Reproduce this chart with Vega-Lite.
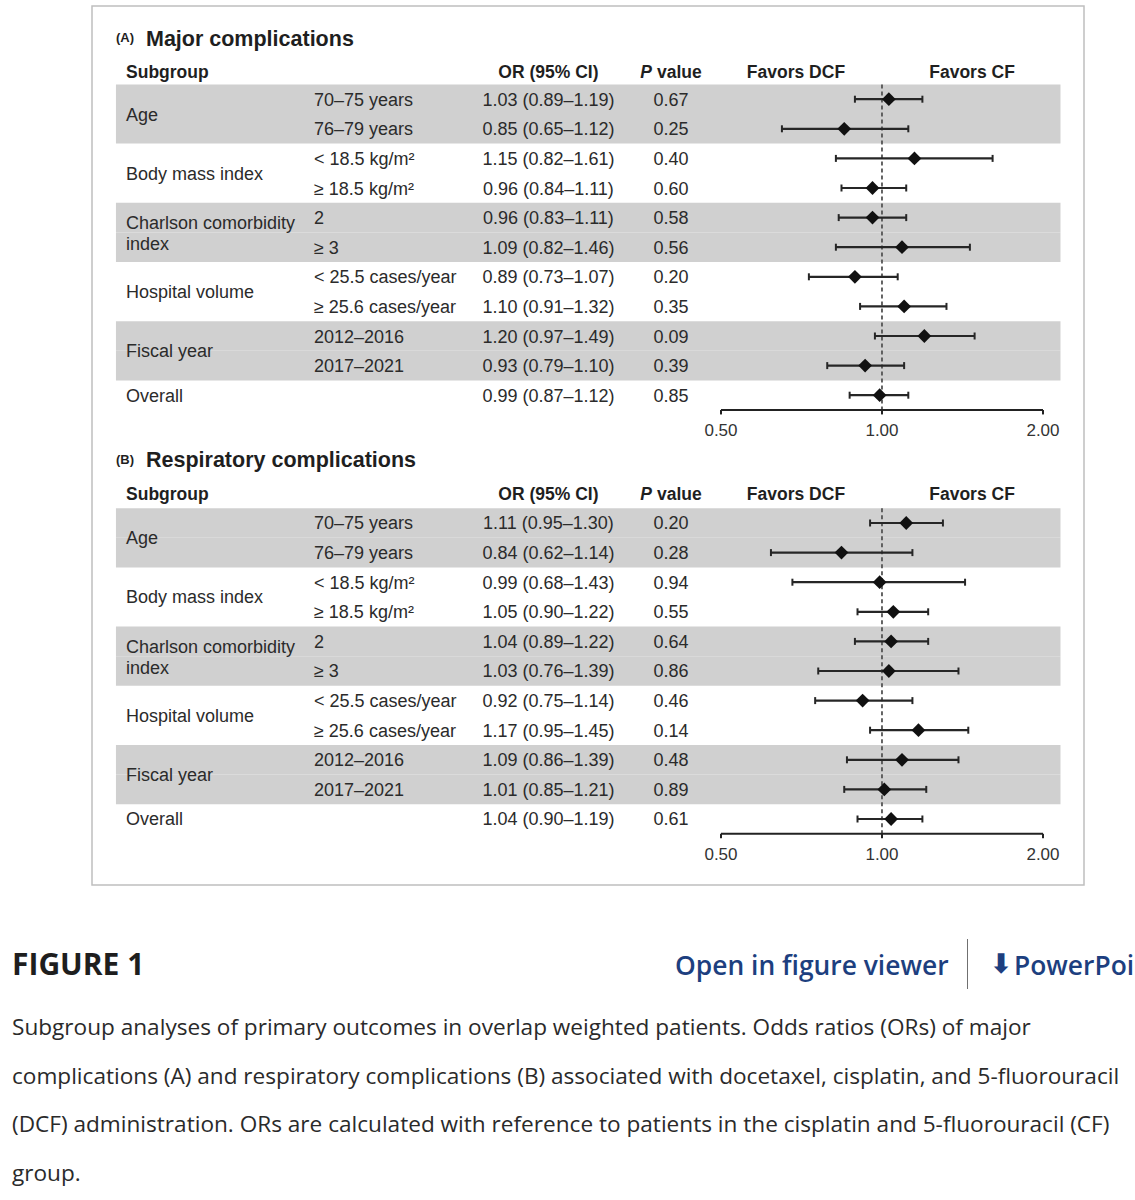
{
  "$schema": "https://vega.github.io/schema/vega-lite/v6.json",
  "background": "white",
  "padding": {"left": 12, "top": 5, "right": 0, "bottom": 10},
  "config": {
    "view": {"stroke": "#bfbfbf", "strokeWidth": 1.5},
    "text": {"font": "Liberation Sans", "fontSize": 18, "color": "#2b2b2b", "baseline": "middle"}
  },
  "datasets": {
    "rows": [
      {"panel": "A", "group": "Age", "level": "70–75 years", "or": 1.03, "lo": 0.89, "hi": 1.19, "ci": "1.03 (0.89–1.19)", "p": 0.67},
      {"panel": "A", "group": "Age", "level": "76–79 years", "or": 0.85, "lo": 0.65, "hi": 1.12, "ci": "0.85 (0.65–1.12)", "p": 0.25},
      {"panel": "A", "group": "Body mass index", "level": "< 18.5 kg/m²", "or": 1.15, "lo": 0.82, "hi": 1.61, "ci": "1.15 (0.82–1.61)", "p": 0.40},
      {"panel": "A", "group": "Body mass index", "level": "≥ 18.5 kg/m²", "or": 0.96, "lo": 0.84, "hi": 1.11, "ci": "0.96 (0.84–1.11)", "p": 0.60},
      {"panel": "A", "group": "Charlson comorbidity\nindex", "level": "2", "or": 0.96, "lo": 0.83, "hi": 1.11, "ci": "0.96 (0.83–1.11)", "p": 0.58},
      {"panel": "A", "group": "Charlson comorbidity\nindex", "level": "≥ 3", "or": 1.09, "lo": 0.82, "hi": 1.46, "ci": "1.09 (0.82–1.46)", "p": 0.56},
      {"panel": "A", "group": "Hospital volume", "level": "< 25.5 cases/year", "or": 0.89, "lo": 0.73, "hi": 1.07, "ci": "0.89 (0.73–1.07)", "p": 0.20},
      {"panel": "A", "group": "Hospital volume", "level": "≥ 25.6 cases/year", "or": 1.10, "lo": 0.91, "hi": 1.32, "ci": "1.10 (0.91–1.32)", "p": 0.35},
      {"panel": "A", "group": "Fiscal year", "level": "2012–2016", "or": 1.20, "lo": 0.97, "hi": 1.49, "ci": "1.20 (0.97–1.49)", "p": 0.09},
      {"panel": "A", "group": "Fiscal year", "level": "2017–2021", "or": 0.93, "lo": 0.79, "hi": 1.10, "ci": "0.93 (0.79–1.10)", "p": 0.39},
      {"panel": "A", "group": "Overall", "level": "Overall", "or": 0.99, "lo": 0.87, "hi": 1.12, "ci": "0.99 (0.87–1.12)", "p": 0.85},
      {"panel": "B", "group": "Age", "level": "70–75 years", "or": 1.11, "lo": 0.95, "hi": 1.30, "ci": "1.11 (0.95–1.30)", "p": 0.20},
      {"panel": "B", "group": "Age", "level": "76–79 years", "or": 0.84, "lo": 0.62, "hi": 1.14, "ci": "0.84 (0.62–1.14)", "p": 0.28},
      {"panel": "B", "group": "Body mass index", "level": "< 18.5 kg/m²", "or": 0.99, "lo": 0.68, "hi": 1.43, "ci": "0.99 (0.68–1.43)", "p": 0.94},
      {"panel": "B", "group": "Body mass index", "level": "≥ 18.5 kg/m²", "or": 1.05, "lo": 0.90, "hi": 1.22, "ci": "1.05 (0.90–1.22)", "p": 0.55},
      {"panel": "B", "group": "Charlson comorbidity\nindex", "level": "2", "or": 1.04, "lo": 0.89, "hi": 1.22, "ci": "1.04 (0.89–1.22)", "p": 0.64},
      {"panel": "B", "group": "Charlson comorbidity\nindex", "level": "≥ 3", "or": 1.03, "lo": 0.76, "hi": 1.39, "ci": "1.03 (0.76–1.39)", "p": 0.86},
      {"panel": "B", "group": "Hospital volume", "level": "< 25.5 cases/year", "or": 0.92, "lo": 0.75, "hi": 1.14, "ci": "0.92 (0.75–1.14)", "p": 0.46},
      {"panel": "B", "group": "Hospital volume", "level": "≥ 25.6 cases/year", "or": 1.17, "lo": 0.95, "hi": 1.45, "ci": "1.17 (0.95–1.45)", "p": 0.14},
      {"panel": "B", "group": "Fiscal year", "level": "2012–2016", "or": 1.09, "lo": 0.86, "hi": 1.39, "ci": "1.09 (0.86–1.39)", "p": 0.48},
      {"panel": "B", "group": "Fiscal year", "level": "2017–2021", "or": 1.01, "lo": 0.85, "hi": 1.21, "ci": "1.01 (0.85–1.21)", "p": 0.89},
      {"panel": "B", "group": "Overall", "level": "Overall", "or": 1.04, "lo": 0.90, "hi": 1.19, "ci": "1.04 (0.90–1.19)", "p": 0.61}
    ],
    "ticks": [
      {"v": 0.5, "label": "0.50"},
      {"v": 1, "label": "1.00"},
      {"v": 2, "label": "2.00"}
    ]
  },
  "spacing": 53,
  "vconcat": [
    {
      "spacing": 0,
      "hconcat": [
        {"width": 79, "height": 1, "data": {"values": []}, "mark": "text", "view": {"stroke": null, "fill": "white"}},
        {
          "width": 992,
          "height": 879,
          "resolve": {"scale": {"y": "independent"}},
          "layer": [
            {
              "layer": [
                {"data": {"name": "rows"}, "transform": [{"filter": "datum.panel == 'A' && (datum.group == 'Age' || datum.group == 'Fiscal year' || indexof(datum.group, 'Charlson') == 0)"}],
                 "mark": {"type": "rect", "color": "#d0d0d0"},
                 "encoding": {"x": {"datum": 0.03696, "type": "quantitative", "scale": {"type": "log", "domain": [0.03334, 2.3862], "nice": false}, "axis": null}, "x2": {"datum": 2.15659},
                   "y": {"field": "level", "type": "nominal", "axis": null, "scale": {"type": "band", "domain": ["title", "header", "70–75 years", "76–79 years", "< 18.5 kg/m²", "≥ 18.5 kg/m²", "2", "≥ 3", "< 25.5 cases/year", "≥ 25.6 cases/year", "2012–2016", "2017–2021", "Overall", "axis", "pad1", "pad2", "pad3", "pad4", "pad5", "pad6", "pad7", "pad8", "pad9", "pad10", "pad11", "pad12", "pad13", "pad14", "pad15"], "paddingInner": 0, "paddingOuter": 0.348, "align": 0.932, "round": false}}}},
                {"data": {"values": [{}]},
                 "mark": {"type": "rule", "color": "#555555", "strokeWidth": 1.8, "strokeDash": [4, 3]},
                 "encoding": {"x": {"datum": 1, "type": "quantitative", "scale": {"type": "log", "domain": [0.03334, 2.3862], "nice": false}, "axis": null},
                   "y": {"datum": "70–75 years", "type": "nominal", "bandPosition": 0, "axis": null, "scale": {"type": "band", "domain": ["title", "header", "70–75 years", "76–79 years", "< 18.5 kg/m²", "≥ 18.5 kg/m²", "2", "≥ 3", "< 25.5 cases/year", "≥ 25.6 cases/year", "2012–2016", "2017–2021", "Overall", "axis", "pad1", "pad2", "pad3", "pad4", "pad5", "pad6", "pad7", "pad8", "pad9", "pad10", "pad11", "pad12", "pad13", "pad14", "pad15"], "paddingInner": 0, "paddingOuter": 0.348, "align": 0.932, "round": false}},
                   "y2": {"datum": "axis", "bandPosition": 0}}},
                {"data": {"name": "rows"}, "transform": [{"filter": "datum.panel == 'A'"}],
                 "mark": {"type": "rule", "color": "#262626", "strokeWidth": 2.2},
                 "encoding": {"x": {"field": "lo", "type": "quantitative", "scale": {"type": "log", "domain": [0.03334, 2.3862], "nice": false}, "axis": null}, "x2": {"field": "hi"},
                   "y": {"field": "level", "type": "nominal", "bandPosition": 0.5, "axis": null, "scale": {"type": "band", "domain": ["title", "header", "70–75 years", "76–79 years", "< 18.5 kg/m²", "≥ 18.5 kg/m²", "2", "≥ 3", "< 25.5 cases/year", "≥ 25.6 cases/year", "2012–2016", "2017–2021", "Overall", "axis", "pad1", "pad2", "pad3", "pad4", "pad5", "pad6", "pad7", "pad8", "pad9", "pad10", "pad11", "pad12", "pad13", "pad14", "pad15"], "paddingInner": 0, "paddingOuter": 0.348, "align": 0.932, "round": false}}}},
                {"data": {"name": "rows"}, "transform": [{"filter": "datum.panel == 'A'"}],
                 "mark": {"type": "tick", "color": "#262626", "thickness": 2, "size": 7, "opacity": 1},
                 "encoding": {"x": {"field": "lo", "type": "quantitative", "scale": {"type": "log", "domain": [0.03334, 2.3862], "nice": false}, "axis": null},
                   "y": {"field": "level", "type": "nominal", "axis": null, "scale": {"type": "band", "domain": ["title", "header", "70–75 years", "76–79 years", "< 18.5 kg/m²", "≥ 18.5 kg/m²", "2", "≥ 3", "< 25.5 cases/year", "≥ 25.6 cases/year", "2012–2016", "2017–2021", "Overall", "axis", "pad1", "pad2", "pad3", "pad4", "pad5", "pad6", "pad7", "pad8", "pad9", "pad10", "pad11", "pad12", "pad13", "pad14", "pad15"], "paddingInner": 0, "paddingOuter": 0.348, "align": 0.932, "round": false}}}},
                {"data": {"name": "rows"}, "transform": [{"filter": "datum.panel == 'A'"}],
                 "mark": {"type": "tick", "color": "#262626", "thickness": 2, "size": 7, "opacity": 1},
                 "encoding": {"x": {"field": "hi", "type": "quantitative", "scale": {"type": "log", "domain": [0.03334, 2.3862], "nice": false}, "axis": null},
                   "y": {"field": "level", "type": "nominal", "axis": null, "scale": {"type": "band", "domain": ["title", "header", "70–75 years", "76–79 years", "< 18.5 kg/m²", "≥ 18.5 kg/m²", "2", "≥ 3", "< 25.5 cases/year", "≥ 25.6 cases/year", "2012–2016", "2017–2021", "Overall", "axis", "pad1", "pad2", "pad3", "pad4", "pad5", "pad6", "pad7", "pad8", "pad9", "pad10", "pad11", "pad12", "pad13", "pad14", "pad15"], "paddingInner": 0, "paddingOuter": 0.348, "align": 0.932, "round": false}}}},
                {"data": {"name": "rows"}, "transform": [{"filter": "datum.panel == 'A'"}],
                 "mark": {"type": "point", "shape": "diamond", "filled": true, "size": 190, "color": "#111111", "opacity": 1},
                 "encoding": {"x": {"field": "or", "type": "quantitative", "scale": {"type": "log", "domain": [0.03334, 2.3862], "nice": false}, "axis": null},
                   "y": {"field": "level", "type": "nominal", "bandPosition": 0.5, "axis": null, "scale": {"type": "band", "domain": ["title", "header", "70–75 years", "76–79 years", "< 18.5 kg/m²", "≥ 18.5 kg/m²", "2", "≥ 3", "< 25.5 cases/year", "≥ 25.6 cases/year", "2012–2016", "2017–2021", "Overall", "axis", "pad1", "pad2", "pad3", "pad4", "pad5", "pad6", "pad7", "pad8", "pad9", "pad10", "pad11", "pad12", "pad13", "pad14", "pad15"], "paddingInner": 0, "paddingOuter": 0.348, "align": 0.932, "round": false}}}},
                {"data": {"name": "rows"}, "transform": [{"filter": "datum.panel == 'A' && indexof(datum.group, 'Charlson') != 0"}, {"window": [{"op": "row_number", "as": "rn"}], "groupby": ["group"]}, {"filter": "datum.rn == 2"}],
                 "mark": {"type": "text", "align": "left", "dy": 1.5},
                 "encoding": {"text": {"field": "group"}, "x": {"datum": 0.0386, "type": "quantitative", "scale": {"type": "log", "domain": [0.03334, 2.3862], "nice": false}, "axis": null},
                   "y": {"field": "level", "type": "nominal", "bandPosition": 0, "axis": null, "scale": {"type": "band", "domain": ["title", "header", "70–75 years", "76–79 years", "< 18.5 kg/m²", "≥ 18.5 kg/m²", "2", "≥ 3", "< 25.5 cases/year", "≥ 25.6 cases/year", "2012–2016", "2017–2021", "Overall", "axis", "pad1", "pad2", "pad3", "pad4", "pad5", "pad6", "pad7", "pad8", "pad9", "pad10", "pad11", "pad12", "pad13", "pad14", "pad15"], "paddingInner": 0, "paddingOuter": 0.348, "align": 0.932, "round": false}}}},
                {"data": {"name": "rows"}, "transform": [{"filter": "datum.panel == 'A' && indexof(datum.group, 'Charlson') == 0"}, {"window": [{"op": "row_number", "as": "rn"}], "groupby": ["group"]}, {"filter": "datum.rn == 2"}],
                 "mark": {"type": "text", "align": "left", "dy": -8.5, "lineBreak": "\n", "lineHeight": 21},
                 "encoding": {"text": {"field": "group"}, "x": {"datum": 0.0386, "type": "quantitative", "scale": {"type": "log", "domain": [0.03334, 2.3862], "nice": false}, "axis": null},
                   "y": {"field": "level", "type": "nominal", "bandPosition": 0, "axis": null, "scale": {"type": "band", "domain": ["title", "header", "70–75 years", "76–79 years", "< 18.5 kg/m²", "≥ 18.5 kg/m²", "2", "≥ 3", "< 25.5 cases/year", "≥ 25.6 cases/year", "2012–2016", "2017–2021", "Overall", "axis", "pad1", "pad2", "pad3", "pad4", "pad5", "pad6", "pad7", "pad8", "pad9", "pad10", "pad11", "pad12", "pad13", "pad14", "pad15"], "paddingInner": 0, "paddingOuter": 0.348, "align": 0.932, "round": false}}}},
                {"data": {"name": "rows"}, "transform": [{"filter": "datum.panel == 'A' && datum.group == 'Overall'"}],
                 "mark": {"type": "text", "align": "left", "dy": 1.5},
                 "encoding": {"text": {"field": "group"}, "x": {"datum": 0.0386, "type": "quantitative", "scale": {"type": "log", "domain": [0.03334, 2.3862], "nice": false}, "axis": null},
                   "y": {"field": "level", "type": "nominal", "bandPosition": 0.5, "axis": null, "scale": {"type": "band", "domain": ["title", "header", "70–75 years", "76–79 years", "< 18.5 kg/m²", "≥ 18.5 kg/m²", "2", "≥ 3", "< 25.5 cases/year", "≥ 25.6 cases/year", "2012–2016", "2017–2021", "Overall", "axis", "pad1", "pad2", "pad3", "pad4", "pad5", "pad6", "pad7", "pad8", "pad9", "pad10", "pad11", "pad12", "pad13", "pad14", "pad15"], "paddingInner": 0, "paddingOuter": 0.348, "align": 0.932, "round": false}}}},
                {"data": {"name": "rows"}, "transform": [{"filter": "datum.panel == 'A' && datum.group != 'Overall'"}],
                 "mark": {"type": "text", "align": "left", "dy": 1.5},
                 "encoding": {"text": {"field": "level"}, "x": {"datum": 0.08669, "type": "quantitative", "scale": {"type": "log", "domain": [0.03334, 2.3862], "nice": false}, "axis": null},
                   "y": {"field": "level", "type": "nominal", "bandPosition": 0.5, "axis": null, "scale": {"type": "band", "domain": ["title", "header", "70–75 years", "76–79 years", "< 18.5 kg/m²", "≥ 18.5 kg/m²", "2", "≥ 3", "< 25.5 cases/year", "≥ 25.6 cases/year", "2012–2016", "2017–2021", "Overall", "axis", "pad1", "pad2", "pad3", "pad4", "pad5", "pad6", "pad7", "pad8", "pad9", "pad10", "pad11", "pad12", "pad13", "pad14", "pad15"], "paddingInner": 0, "paddingOuter": 0.348, "align": 0.932, "round": false}}}},
                {"data": {"name": "rows"}, "transform": [{"filter": "datum.panel == 'A'"}],
                 "mark": {"type": "text", "align": "center", "dy": 1.5},
                 "encoding": {"text": {"field": "ci"}, "x": {"datum": 0.2379, "type": "quantitative", "scale": {"type": "log", "domain": [0.03334, 2.3862], "nice": false}, "axis": null},
                   "y": {"field": "level", "type": "nominal", "bandPosition": 0.5, "axis": null, "scale": {"type": "band", "domain": ["title", "header", "70–75 years", "76–79 years", "< 18.5 kg/m²", "≥ 18.5 kg/m²", "2", "≥ 3", "< 25.5 cases/year", "≥ 25.6 cases/year", "2012–2016", "2017–2021", "Overall", "axis", "pad1", "pad2", "pad3", "pad4", "pad5", "pad6", "pad7", "pad8", "pad9", "pad10", "pad11", "pad12", "pad13", "pad14", "pad15"], "paddingInner": 0, "paddingOuter": 0.348, "align": 0.932, "round": false}}}},
                {"data": {"name": "rows"}, "transform": [{"filter": "datum.panel == 'A'"}],
                 "mark": {"type": "text", "align": "center", "dy": 1.5},
                 "encoding": {"text": {"field": "p", "type": "quantitative", "format": ".2f"}, "x": {"datum": 0.40309, "type": "quantitative", "scale": {"type": "log", "domain": [0.03334, 2.3862], "nice": false}, "axis": null},
                   "y": {"field": "level", "type": "nominal", "bandPosition": 0.5, "axis": null, "scale": {"type": "band", "domain": ["title", "header", "70–75 years", "76–79 years", "< 18.5 kg/m²", "≥ 18.5 kg/m²", "2", "≥ 3", "< 25.5 cases/year", "≥ 25.6 cases/year", "2012–2016", "2017–2021", "Overall", "axis", "pad1", "pad2", "pad3", "pad4", "pad5", "pad6", "pad7", "pad8", "pad9", "pad10", "pad11", "pad12", "pad13", "pad14", "pad15"], "paddingInner": 0, "paddingOuter": 0.348, "align": 0.932, "round": false}}}},
                {"data": {"values": [{}]},
                 "mark": {"type": "text", "text": "Subgroup", "align": "left", "fontWeight": "bold", "fontSize": 17.5, "color": "#1f1f1f", "dy": 3},
                 "encoding": {"x": {"datum": 0.0386, "type": "quantitative", "scale": {"type": "log", "domain": [0.03334, 2.3862], "nice": false}, "axis": null},
                   "y": {"datum": "header", "type": "nominal", "bandPosition": 0.5, "axis": null, "scale": {"type": "band", "domain": ["title", "header", "70–75 years", "76–79 years", "< 18.5 kg/m²", "≥ 18.5 kg/m²", "2", "≥ 3", "< 25.5 cases/year", "≥ 25.6 cases/year", "2012–2016", "2017–2021", "Overall", "axis", "pad1", "pad2", "pad3", "pad4", "pad5", "pad6", "pad7", "pad8", "pad9", "pad10", "pad11", "pad12", "pad13", "pad14", "pad15"], "paddingInner": 0, "paddingOuter": 0.348, "align": 0.932, "round": false}}}},
                {"data": {"values": [{}]},
                 "mark": {"type": "text", "text": "OR (95% CI)", "align": "center", "fontWeight": "bold", "fontSize": 17.5, "color": "#1f1f1f", "dy": 3},
                 "encoding": {"x": {"datum": 0.2379, "type": "quantitative", "scale": {"type": "log", "domain": [0.03334, 2.3862], "nice": false}, "axis": null},
                   "y": {"datum": "header", "type": "nominal", "bandPosition": 0.5, "axis": null, "scale": {"type": "band", "domain": ["title", "header", "70–75 years", "76–79 years", "< 18.5 kg/m²", "≥ 18.5 kg/m²", "2", "≥ 3", "< 25.5 cases/year", "≥ 25.6 cases/year", "2012–2016", "2017–2021", "Overall", "axis", "pad1", "pad2", "pad3", "pad4", "pad5", "pad6", "pad7", "pad8", "pad9", "pad10", "pad11", "pad12", "pad13", "pad14", "pad15"], "paddingInner": 0, "paddingOuter": 0.348, "align": 0.932, "round": false}}}},
                {"data": {"values": [{}]},
                 "mark": {"type": "text", "text": "P", "align": "right", "fontWeight": "bold", "fontStyle": "italic", "fontSize": 17.5, "color": "#1f1f1f", "dy": 3, "dx": -19},
                 "encoding": {"x": {"datum": 0.40309, "type": "quantitative", "scale": {"type": "log", "domain": [0.03334, 2.3862], "nice": false}, "axis": null},
                   "y": {"datum": "header", "type": "nominal", "bandPosition": 0.5, "axis": null, "scale": {"type": "band", "domain": ["title", "header", "70–75 years", "76–79 years", "< 18.5 kg/m²", "≥ 18.5 kg/m²", "2", "≥ 3", "< 25.5 cases/year", "≥ 25.6 cases/year", "2012–2016", "2017–2021", "Overall", "axis", "pad1", "pad2", "pad3", "pad4", "pad5", "pad6", "pad7", "pad8", "pad9", "pad10", "pad11", "pad12", "pad13", "pad14", "pad15"], "paddingInner": 0, "paddingOuter": 0.348, "align": 0.932, "round": false}}}},
                {"data": {"values": [{}]},
                 "mark": {"type": "text", "text": "value", "align": "left", "fontWeight": "bold", "fontSize": 17.5, "color": "#1f1f1f", "dy": 3, "dx": -14},
                 "encoding": {"x": {"datum": 0.40309, "type": "quantitative", "scale": {"type": "log", "domain": [0.03334, 2.3862], "nice": false}, "axis": null},
                   "y": {"datum": "header", "type": "nominal", "bandPosition": 0.5, "axis": null, "scale": {"type": "band", "domain": ["title", "header", "70–75 years", "76–79 years", "< 18.5 kg/m²", "≥ 18.5 kg/m²", "2", "≥ 3", "< 25.5 cases/year", "≥ 25.6 cases/year", "2012–2016", "2017–2021", "Overall", "axis", "pad1", "pad2", "pad3", "pad4", "pad5", "pad6", "pad7", "pad8", "pad9", "pad10", "pad11", "pad12", "pad13", "pad14", "pad15"], "paddingInner": 0, "paddingOuter": 0.348, "align": 0.932, "round": false}}}},
                {"data": {"values": [{}]},
                 "mark": {"type": "text", "text": "Favors DCF", "align": "center", "fontWeight": "bold", "fontSize": 17.5, "color": "#1f1f1f", "dy": 3},
                 "encoding": {"x": {"datum": 0.69054, "type": "quantitative", "scale": {"type": "log", "domain": [0.03334, 2.3862], "nice": false}, "axis": null},
                   "y": {"datum": "header", "type": "nominal", "bandPosition": 0.5, "axis": null, "scale": {"type": "band", "domain": ["title", "header", "70–75 years", "76–79 years", "< 18.5 kg/m²", "≥ 18.5 kg/m²", "2", "≥ 3", "< 25.5 cases/year", "≥ 25.6 cases/year", "2012–2016", "2017–2021", "Overall", "axis", "pad1", "pad2", "pad3", "pad4", "pad5", "pad6", "pad7", "pad8", "pad9", "pad10", "pad11", "pad12", "pad13", "pad14", "pad15"], "paddingInner": 0, "paddingOuter": 0.348, "align": 0.932, "round": false}}}},
                {"data": {"values": [{}]},
                 "mark": {"type": "text", "text": "Favors CF", "align": "center", "fontWeight": "bold", "fontSize": 17.5, "color": "#1f1f1f", "dy": 3},
                 "encoding": {"x": {"datum": 1.47357, "type": "quantitative", "scale": {"type": "log", "domain": [0.03334, 2.3862], "nice": false}, "axis": null},
                   "y": {"datum": "header", "type": "nominal", "bandPosition": 0.5, "axis": null, "scale": {"type": "band", "domain": ["title", "header", "70–75 years", "76–79 years", "< 18.5 kg/m²", "≥ 18.5 kg/m²", "2", "≥ 3", "< 25.5 cases/year", "≥ 25.6 cases/year", "2012–2016", "2017–2021", "Overall", "axis", "pad1", "pad2", "pad3", "pad4", "pad5", "pad6", "pad7", "pad8", "pad9", "pad10", "pad11", "pad12", "pad13", "pad14", "pad15"], "paddingInner": 0, "paddingOuter": 0.348, "align": 0.932, "round": false}}}},
                {"data": {"values": [{}]},
                 "mark": {"type": "text", "text": "(A)", "align": "left", "fontWeight": "bold", "fontSize": 13, "color": "#1f1f1f", "dy": -2.5},
                 "encoding": {"x": {"datum": 0.03696, "type": "quantitative", "scale": {"type": "log", "domain": [0.03334, 2.3862], "nice": false}, "axis": null},
                   "y": {"datum": "title", "type": "nominal", "bandPosition": 0.5, "axis": null, "scale": {"type": "band", "domain": ["title", "header", "70–75 years", "76–79 years", "< 18.5 kg/m²", "≥ 18.5 kg/m²", "2", "≥ 3", "< 25.5 cases/year", "≥ 25.6 cases/year", "2012–2016", "2017–2021", "Overall", "axis", "pad1", "pad2", "pad3", "pad4", "pad5", "pad6", "pad7", "pad8", "pad9", "pad10", "pad11", "pad12", "pad13", "pad14", "pad15"], "paddingInner": 0, "paddingOuter": 0.348, "align": 0.932, "round": false}}}},
                {"data": {"values": [{}]},
                 "mark": {"type": "text", "text": "Major complications", "align": "left", "fontWeight": "bold", "fontSize": 21.5, "color": "#1f1f1f", "dy": -0.5},
                 "encoding": {"x": {"datum": 0.04206, "type": "quantitative", "scale": {"type": "log", "domain": [0.03334, 2.3862], "nice": false}, "axis": null},
                   "y": {"datum": "title", "type": "nominal", "bandPosition": 0.5, "axis": null, "scale": {"type": "band", "domain": ["title", "header", "70–75 years", "76–79 years", "< 18.5 kg/m²", "≥ 18.5 kg/m²", "2", "≥ 3", "< 25.5 cases/year", "≥ 25.6 cases/year", "2012–2016", "2017–2021", "Overall", "axis", "pad1", "pad2", "pad3", "pad4", "pad5", "pad6", "pad7", "pad8", "pad9", "pad10", "pad11", "pad12", "pad13", "pad14", "pad15"], "paddingInner": 0, "paddingOuter": 0.348, "align": 0.932, "round": false}}}},
                {"data": {"values": [{}]},
                 "mark": {"type": "rule", "color": "#222222", "strokeWidth": 2},
                 "encoding": {"x": {"datum": 0.5, "type": "quantitative", "scale": {"type": "log", "domain": [0.03334, 2.3862], "nice": false}, "axis": null}, "x2": {"datum": 2},
                   "y": {"datum": "axis", "type": "nominal", "bandPosition": 0, "axis": null, "scale": {"type": "band", "domain": ["title", "header", "70–75 years", "76–79 years", "< 18.5 kg/m²", "≥ 18.5 kg/m²", "2", "≥ 3", "< 25.5 cases/year", "≥ 25.6 cases/year", "2012–2016", "2017–2021", "Overall", "axis", "pad1", "pad2", "pad3", "pad4", "pad5", "pad6", "pad7", "pad8", "pad9", "pad10", "pad11", "pad12", "pad13", "pad14", "pad15"], "paddingInner": 0, "paddingOuter": 0.348, "align": 0.932, "round": false}}}},
                {"data": {"name": "ticks"},
                 "mark": {"type": "rule", "color": "#222222", "strokeWidth": 2},
                 "encoding": {"x": {"field": "v", "type": "quantitative", "scale": {"type": "log", "domain": [0.03334, 2.3862], "nice": false}, "axis": null},
                   "y": {"datum": "axis", "type": "nominal", "bandPosition": 0, "axis": null, "scale": {"type": "band", "domain": ["title", "header", "70–75 years", "76–79 years", "< 18.5 kg/m²", "≥ 18.5 kg/m²", "2", "≥ 3", "< 25.5 cases/year", "≥ 25.6 cases/year", "2012–2016", "2017–2021", "Overall", "axis", "pad1", "pad2", "pad3", "pad4", "pad5", "pad6", "pad7", "pad8", "pad9", "pad10", "pad11", "pad12", "pad13", "pad14", "pad15"], "paddingInner": 0, "paddingOuter": 0.348, "align": 0.932, "round": false}},
                   "y2": {"datum": "axis", "bandPosition": 0.15}}},
                {"data": {"name": "ticks"},
                 "mark": {"type": "text", "align": "center", "fontSize": 17, "color": "#333333", "dy": 6},
                 "encoding": {"text": {"field": "label"}, "x": {"field": "v", "type": "quantitative", "scale": {"type": "log", "domain": [0.03334, 2.3862], "nice": false}, "axis": null},
                   "y": {"datum": "axis", "type": "nominal", "bandPosition": 0.5, "axis": null, "scale": {"type": "band", "domain": ["title", "header", "70–75 years", "76–79 years", "< 18.5 kg/m²", "≥ 18.5 kg/m²", "2", "≥ 3", "< 25.5 cases/year", "≥ 25.6 cases/year", "2012–2016", "2017–2021", "Overall", "axis", "pad1", "pad2", "pad3", "pad4", "pad5", "pad6", "pad7", "pad8", "pad9", "pad10", "pad11", "pad12", "pad13", "pad14", "pad15"], "paddingInner": 0, "paddingOuter": 0.348, "align": 0.932, "round": false}}}}
              ]
            },
            {
              "layer": [
                {"data": {"name": "rows"}, "transform": [{"filter": "datum.panel == 'B' && (datum.group == 'Age' || datum.group == 'Fiscal year' || indexof(datum.group, 'Charlson') == 0)"}],
                 "mark": {"type": "rect", "color": "#d0d0d0"},
                 "encoding": {"x": {"datum": 0.03696, "type": "quantitative", "scale": {"type": "log", "domain": [0.03334, 2.3862], "nice": false}, "axis": null}, "x2": {"datum": 2.15659},
                   "y": {"field": "level", "type": "nominal", "axis": null, "scale": {"type": "band", "domain": ["pad1", "pad2", "pad3", "pad4", "pad5", "pad6", "pad7", "pad8", "pad9", "pad10", "pad11", "pad12", "pad13", "pad14", "title", "header", "70–75 years", "76–79 years", "< 18.5 kg/m²", "≥ 18.5 kg/m²", "2", "≥ 3", "< 25.5 cases/year", "≥ 25.6 cases/year", "2012–2016", "2017–2021", "Overall", "axis"], "paddingInner": 0, "paddingOuter": 0.848, "align": 0.5697, "round": false}}}},
                {"data": {"values": [{}]},
                 "mark": {"type": "rule", "color": "#555555", "strokeWidth": 1.8, "strokeDash": [4, 3]},
                 "encoding": {"x": {"datum": 1, "type": "quantitative", "scale": {"type": "log", "domain": [0.03334, 2.3862], "nice": false}, "axis": null},
                   "y": {"datum": "70–75 years", "type": "nominal", "bandPosition": 0, "axis": null, "scale": {"type": "band", "domain": ["pad1", "pad2", "pad3", "pad4", "pad5", "pad6", "pad7", "pad8", "pad9", "pad10", "pad11", "pad12", "pad13", "pad14", "title", "header", "70–75 years", "76–79 years", "< 18.5 kg/m²", "≥ 18.5 kg/m²", "2", "≥ 3", "< 25.5 cases/year", "≥ 25.6 cases/year", "2012–2016", "2017–2021", "Overall", "axis"], "paddingInner": 0, "paddingOuter": 0.848, "align": 0.5697, "round": false}},
                   "y2": {"datum": "axis", "bandPosition": 0}}},
                {"data": {"name": "rows"}, "transform": [{"filter": "datum.panel == 'B'"}],
                 "mark": {"type": "rule", "color": "#262626", "strokeWidth": 2.2},
                 "encoding": {"x": {"field": "lo", "type": "quantitative", "scale": {"type": "log", "domain": [0.03334, 2.3862], "nice": false}, "axis": null}, "x2": {"field": "hi"},
                   "y": {"field": "level", "type": "nominal", "bandPosition": 0.5, "axis": null, "scale": {"type": "band", "domain": ["pad1", "pad2", "pad3", "pad4", "pad5", "pad6", "pad7", "pad8", "pad9", "pad10", "pad11", "pad12", "pad13", "pad14", "title", "header", "70–75 years", "76–79 years", "< 18.5 kg/m²", "≥ 18.5 kg/m²", "2", "≥ 3", "< 25.5 cases/year", "≥ 25.6 cases/year", "2012–2016", "2017–2021", "Overall", "axis"], "paddingInner": 0, "paddingOuter": 0.848, "align": 0.5697, "round": false}}}},
                {"data": {"name": "rows"}, "transform": [{"filter": "datum.panel == 'B'"}],
                 "mark": {"type": "tick", "color": "#262626", "thickness": 2, "size": 7, "opacity": 1},
                 "encoding": {"x": {"field": "lo", "type": "quantitative", "scale": {"type": "log", "domain": [0.03334, 2.3862], "nice": false}, "axis": null},
                   "y": {"field": "level", "type": "nominal", "axis": null, "scale": {"type": "band", "domain": ["pad1", "pad2", "pad3", "pad4", "pad5", "pad6", "pad7", "pad8", "pad9", "pad10", "pad11", "pad12", "pad13", "pad14", "title", "header", "70–75 years", "76–79 years", "< 18.5 kg/m²", "≥ 18.5 kg/m²", "2", "≥ 3", "< 25.5 cases/year", "≥ 25.6 cases/year", "2012–2016", "2017–2021", "Overall", "axis"], "paddingInner": 0, "paddingOuter": 0.848, "align": 0.5697, "round": false}}}},
                {"data": {"name": "rows"}, "transform": [{"filter": "datum.panel == 'B'"}],
                 "mark": {"type": "tick", "color": "#262626", "thickness": 2, "size": 7, "opacity": 1},
                 "encoding": {"x": {"field": "hi", "type": "quantitative", "scale": {"type": "log", "domain": [0.03334, 2.3862], "nice": false}, "axis": null},
                   "y": {"field": "level", "type": "nominal", "axis": null, "scale": {"type": "band", "domain": ["pad1", "pad2", "pad3", "pad4", "pad5", "pad6", "pad7", "pad8", "pad9", "pad10", "pad11", "pad12", "pad13", "pad14", "title", "header", "70–75 years", "76–79 years", "< 18.5 kg/m²", "≥ 18.5 kg/m²", "2", "≥ 3", "< 25.5 cases/year", "≥ 25.6 cases/year", "2012–2016", "2017–2021", "Overall", "axis"], "paddingInner": 0, "paddingOuter": 0.848, "align": 0.5697, "round": false}}}},
                {"data": {"name": "rows"}, "transform": [{"filter": "datum.panel == 'B'"}],
                 "mark": {"type": "point", "shape": "diamond", "filled": true, "size": 190, "color": "#111111", "opacity": 1},
                 "encoding": {"x": {"field": "or", "type": "quantitative", "scale": {"type": "log", "domain": [0.03334, 2.3862], "nice": false}, "axis": null},
                   "y": {"field": "level", "type": "nominal", "bandPosition": 0.5, "axis": null, "scale": {"type": "band", "domain": ["pad1", "pad2", "pad3", "pad4", "pad5", "pad6", "pad7", "pad8", "pad9", "pad10", "pad11", "pad12", "pad13", "pad14", "title", "header", "70–75 years", "76–79 years", "< 18.5 kg/m²", "≥ 18.5 kg/m²", "2", "≥ 3", "< 25.5 cases/year", "≥ 25.6 cases/year", "2012–2016", "2017–2021", "Overall", "axis"], "paddingInner": 0, "paddingOuter": 0.848, "align": 0.5697, "round": false}}}},
                {"data": {"name": "rows"}, "transform": [{"filter": "datum.panel == 'B' && indexof(datum.group, 'Charlson') != 0"}, {"window": [{"op": "row_number", "as": "rn"}], "groupby": ["group"]}, {"filter": "datum.rn == 2"}],
                 "mark": {"type": "text", "align": "left", "dy": 1.5},
                 "encoding": {"text": {"field": "group"}, "x": {"datum": 0.0386, "type": "quantitative", "scale": {"type": "log", "domain": [0.03334, 2.3862], "nice": false}, "axis": null},
                   "y": {"field": "level", "type": "nominal", "bandPosition": 0, "axis": null, "scale": {"type": "band", "domain": ["pad1", "pad2", "pad3", "pad4", "pad5", "pad6", "pad7", "pad8", "pad9", "pad10", "pad11", "pad12", "pad13", "pad14", "title", "header", "70–75 years", "76–79 years", "< 18.5 kg/m²", "≥ 18.5 kg/m²", "2", "≥ 3", "< 25.5 cases/year", "≥ 25.6 cases/year", "2012–2016", "2017–2021", "Overall", "axis"], "paddingInner": 0, "paddingOuter": 0.848, "align": 0.5697, "round": false}}}},
                {"data": {"name": "rows"}, "transform": [{"filter": "datum.panel == 'B' && indexof(datum.group, 'Charlson') == 0"}, {"window": [{"op": "row_number", "as": "rn"}], "groupby": ["group"]}, {"filter": "datum.rn == 2"}],
                 "mark": {"type": "text", "align": "left", "dy": -8.5, "lineBreak": "\n", "lineHeight": 21},
                 "encoding": {"text": {"field": "group"}, "x": {"datum": 0.0386, "type": "quantitative", "scale": {"type": "log", "domain": [0.03334, 2.3862], "nice": false}, "axis": null},
                   "y": {"field": "level", "type": "nominal", "bandPosition": 0, "axis": null, "scale": {"type": "band", "domain": ["pad1", "pad2", "pad3", "pad4", "pad5", "pad6", "pad7", "pad8", "pad9", "pad10", "pad11", "pad12", "pad13", "pad14", "title", "header", "70–75 years", "76–79 years", "< 18.5 kg/m²", "≥ 18.5 kg/m²", "2", "≥ 3", "< 25.5 cases/year", "≥ 25.6 cases/year", "2012–2016", "2017–2021", "Overall", "axis"], "paddingInner": 0, "paddingOuter": 0.848, "align": 0.5697, "round": false}}}},
                {"data": {"name": "rows"}, "transform": [{"filter": "datum.panel == 'B' && datum.group == 'Overall'"}],
                 "mark": {"type": "text", "align": "left", "dy": 1.5},
                 "encoding": {"text": {"field": "group"}, "x": {"datum": 0.0386, "type": "quantitative", "scale": {"type": "log", "domain": [0.03334, 2.3862], "nice": false}, "axis": null},
                   "y": {"field": "level", "type": "nominal", "bandPosition": 0.5, "axis": null, "scale": {"type": "band", "domain": ["pad1", "pad2", "pad3", "pad4", "pad5", "pad6", "pad7", "pad8", "pad9", "pad10", "pad11", "pad12", "pad13", "pad14", "title", "header", "70–75 years", "76–79 years", "< 18.5 kg/m²", "≥ 18.5 kg/m²", "2", "≥ 3", "< 25.5 cases/year", "≥ 25.6 cases/year", "2012–2016", "2017–2021", "Overall", "axis"], "paddingInner": 0, "paddingOuter": 0.848, "align": 0.5697, "round": false}}}},
                {"data": {"name": "rows"}, "transform": [{"filter": "datum.panel == 'B' && datum.group != 'Overall'"}],
                 "mark": {"type": "text", "align": "left", "dy": 1.5},
                 "encoding": {"text": {"field": "level"}, "x": {"datum": 0.08669, "type": "quantitative", "scale": {"type": "log", "domain": [0.03334, 2.3862], "nice": false}, "axis": null},
                   "y": {"field": "level", "type": "nominal", "bandPosition": 0.5, "axis": null, "scale": {"type": "band", "domain": ["pad1", "pad2", "pad3", "pad4", "pad5", "pad6", "pad7", "pad8", "pad9", "pad10", "pad11", "pad12", "pad13", "pad14", "title", "header", "70–75 years", "76–79 years", "< 18.5 kg/m²", "≥ 18.5 kg/m²", "2", "≥ 3", "< 25.5 cases/year", "≥ 25.6 cases/year", "2012–2016", "2017–2021", "Overall", "axis"], "paddingInner": 0, "paddingOuter": 0.848, "align": 0.5697, "round": false}}}},
                {"data": {"name": "rows"}, "transform": [{"filter": "datum.panel == 'B'"}],
                 "mark": {"type": "text", "align": "center", "dy": 1.5},
                 "encoding": {"text": {"field": "ci"}, "x": {"datum": 0.2379, "type": "quantitative", "scale": {"type": "log", "domain": [0.03334, 2.3862], "nice": false}, "axis": null},
                   "y": {"field": "level", "type": "nominal", "bandPosition": 0.5, "axis": null, "scale": {"type": "band", "domain": ["pad1", "pad2", "pad3", "pad4", "pad5", "pad6", "pad7", "pad8", "pad9", "pad10", "pad11", "pad12", "pad13", "pad14", "title", "header", "70–75 years", "76–79 years", "< 18.5 kg/m²", "≥ 18.5 kg/m²", "2", "≥ 3", "< 25.5 cases/year", "≥ 25.6 cases/year", "2012–2016", "2017–2021", "Overall", "axis"], "paddingInner": 0, "paddingOuter": 0.848, "align": 0.5697, "round": false}}}},
                {"data": {"name": "rows"}, "transform": [{"filter": "datum.panel == 'B'"}],
                 "mark": {"type": "text", "align": "center", "dy": 1.5},
                 "encoding": {"text": {"field": "p", "type": "quantitative", "format": ".2f"}, "x": {"datum": 0.40309, "type": "quantitative", "scale": {"type": "log", "domain": [0.03334, 2.3862], "nice": false}, "axis": null},
                   "y": {"field": "level", "type": "nominal", "bandPosition": 0.5, "axis": null, "scale": {"type": "band", "domain": ["pad1", "pad2", "pad3", "pad4", "pad5", "pad6", "pad7", "pad8", "pad9", "pad10", "pad11", "pad12", "pad13", "pad14", "title", "header", "70–75 years", "76–79 years", "< 18.5 kg/m²", "≥ 18.5 kg/m²", "2", "≥ 3", "< 25.5 cases/year", "≥ 25.6 cases/year", "2012–2016", "2017–2021", "Overall", "axis"], "paddingInner": 0, "paddingOuter": 0.848, "align": 0.5697, "round": false}}}},
                {"data": {"values": [{}]},
                 "mark": {"type": "text", "text": "Subgroup", "align": "left", "fontWeight": "bold", "fontSize": 17.5, "color": "#1f1f1f", "dy": 1.5},
                 "encoding": {"x": {"datum": 0.0386, "type": "quantitative", "scale": {"type": "log", "domain": [0.03334, 2.3862], "nice": false}, "axis": null},
                   "y": {"datum": "header", "type": "nominal", "bandPosition": 0.5, "axis": null, "scale": {"type": "band", "domain": ["pad1", "pad2", "pad3", "pad4", "pad5", "pad6", "pad7", "pad8", "pad9", "pad10", "pad11", "pad12", "pad13", "pad14", "title", "header", "70–75 years", "76–79 years", "< 18.5 kg/m²", "≥ 18.5 kg/m²", "2", "≥ 3", "< 25.5 cases/year", "≥ 25.6 cases/year", "2012–2016", "2017–2021", "Overall", "axis"], "paddingInner": 0, "paddingOuter": 0.848, "align": 0.5697, "round": false}}}},
                {"data": {"values": [{}]},
                 "mark": {"type": "text", "text": "OR (95% CI)", "align": "center", "fontWeight": "bold", "fontSize": 17.5, "color": "#1f1f1f", "dy": 1.5},
                 "encoding": {"x": {"datum": 0.2379, "type": "quantitative", "scale": {"type": "log", "domain": [0.03334, 2.3862], "nice": false}, "axis": null},
                   "y": {"datum": "header", "type": "nominal", "bandPosition": 0.5, "axis": null, "scale": {"type": "band", "domain": ["pad1", "pad2", "pad3", "pad4", "pad5", "pad6", "pad7", "pad8", "pad9", "pad10", "pad11", "pad12", "pad13", "pad14", "title", "header", "70–75 years", "76–79 years", "< 18.5 kg/m²", "≥ 18.5 kg/m²", "2", "≥ 3", "< 25.5 cases/year", "≥ 25.6 cases/year", "2012–2016", "2017–2021", "Overall", "axis"], "paddingInner": 0, "paddingOuter": 0.848, "align": 0.5697, "round": false}}}},
                {"data": {"values": [{}]},
                 "mark": {"type": "text", "text": "P", "align": "right", "fontWeight": "bold", "fontStyle": "italic", "fontSize": 17.5, "color": "#1f1f1f", "dy": 1.5, "dx": -19},
                 "encoding": {"x": {"datum": 0.40309, "type": "quantitative", "scale": {"type": "log", "domain": [0.03334, 2.3862], "nice": false}, "axis": null},
                   "y": {"datum": "header", "type": "nominal", "bandPosition": 0.5, "axis": null, "scale": {"type": "band", "domain": ["pad1", "pad2", "pad3", "pad4", "pad5", "pad6", "pad7", "pad8", "pad9", "pad10", "pad11", "pad12", "pad13", "pad14", "title", "header", "70–75 years", "76–79 years", "< 18.5 kg/m²", "≥ 18.5 kg/m²", "2", "≥ 3", "< 25.5 cases/year", "≥ 25.6 cases/year", "2012–2016", "2017–2021", "Overall", "axis"], "paddingInner": 0, "paddingOuter": 0.848, "align": 0.5697, "round": false}}}},
                {"data": {"values": [{}]},
                 "mark": {"type": "text", "text": "value", "align": "left", "fontWeight": "bold", "fontSize": 17.5, "color": "#1f1f1f", "dy": 1.5, "dx": -14},
                 "encoding": {"x": {"datum": 0.40309, "type": "quantitative", "scale": {"type": "log", "domain": [0.03334, 2.3862], "nice": false}, "axis": null},
                   "y": {"datum": "header", "type": "nominal", "bandPosition": 0.5, "axis": null, "scale": {"type": "band", "domain": ["pad1", "pad2", "pad3", "pad4", "pad5", "pad6", "pad7", "pad8", "pad9", "pad10", "pad11", "pad12", "pad13", "pad14", "title", "header", "70–75 years", "76–79 years", "< 18.5 kg/m²", "≥ 18.5 kg/m²", "2", "≥ 3", "< 25.5 cases/year", "≥ 25.6 cases/year", "2012–2016", "2017–2021", "Overall", "axis"], "paddingInner": 0, "paddingOuter": 0.848, "align": 0.5697, "round": false}}}},
                {"data": {"values": [{}]},
                 "mark": {"type": "text", "text": "Favors DCF", "align": "center", "fontWeight": "bold", "fontSize": 17.5, "color": "#1f1f1f", "dy": 1.5},
                 "encoding": {"x": {"datum": 0.69054, "type": "quantitative", "scale": {"type": "log", "domain": [0.03334, 2.3862], "nice": false}, "axis": null},
                   "y": {"datum": "header", "type": "nominal", "bandPosition": 0.5, "axis": null, "scale": {"type": "band", "domain": ["pad1", "pad2", "pad3", "pad4", "pad5", "pad6", "pad7", "pad8", "pad9", "pad10", "pad11", "pad12", "pad13", "pad14", "title", "header", "70–75 years", "76–79 years", "< 18.5 kg/m²", "≥ 18.5 kg/m²", "2", "≥ 3", "< 25.5 cases/year", "≥ 25.6 cases/year", "2012–2016", "2017–2021", "Overall", "axis"], "paddingInner": 0, "paddingOuter": 0.848, "align": 0.5697, "round": false}}}},
                {"data": {"values": [{}]},
                 "mark": {"type": "text", "text": "Favors CF", "align": "center", "fontWeight": "bold", "fontSize": 17.5, "color": "#1f1f1f", "dy": 1.5},
                 "encoding": {"x": {"datum": 1.47357, "type": "quantitative", "scale": {"type": "log", "domain": [0.03334, 2.3862], "nice": false}, "axis": null},
                   "y": {"datum": "header", "type": "nominal", "bandPosition": 0.5, "axis": null, "scale": {"type": "band", "domain": ["pad1", "pad2", "pad3", "pad4", "pad5", "pad6", "pad7", "pad8", "pad9", "pad10", "pad11", "pad12", "pad13", "pad14", "title", "header", "70–75 years", "76–79 years", "< 18.5 kg/m²", "≥ 18.5 kg/m²", "2", "≥ 3", "< 25.5 cases/year", "≥ 25.6 cases/year", "2012–2016", "2017–2021", "Overall", "axis"], "paddingInner": 0, "paddingOuter": 0.848, "align": 0.5697, "round": false}}}},
                {"data": {"values": [{}]},
                 "mark": {"type": "text", "text": "(B)", "align": "left", "fontWeight": "bold", "fontSize": 13, "color": "#1f1f1f", "dy": -4},
                 "encoding": {"x": {"datum": 0.03696, "type": "quantitative", "scale": {"type": "log", "domain": [0.03334, 2.3862], "nice": false}, "axis": null},
                   "y": {"datum": "title", "type": "nominal", "bandPosition": 0.5, "axis": null, "scale": {"type": "band", "domain": ["pad1", "pad2", "pad3", "pad4", "pad5", "pad6", "pad7", "pad8", "pad9", "pad10", "pad11", "pad12", "pad13", "pad14", "title", "header", "70–75 years", "76–79 years", "< 18.5 kg/m²", "≥ 18.5 kg/m²", "2", "≥ 3", "< 25.5 cases/year", "≥ 25.6 cases/year", "2012–2016", "2017–2021", "Overall", "axis"], "paddingInner": 0, "paddingOuter": 0.848, "align": 0.5697, "round": false}}}},
                {"data": {"values": [{}]},
                 "mark": {"type": "text", "text": "Respiratory complications", "align": "left", "fontWeight": "bold", "fontSize": 21.5, "color": "#1f1f1f", "dy": -2.6},
                 "encoding": {"x": {"datum": 0.04206, "type": "quantitative", "scale": {"type": "log", "domain": [0.03334, 2.3862], "nice": false}, "axis": null},
                   "y": {"datum": "title", "type": "nominal", "bandPosition": 0.5, "axis": null, "scale": {"type": "band", "domain": ["pad1", "pad2", "pad3", "pad4", "pad5", "pad6", "pad7", "pad8", "pad9", "pad10", "pad11", "pad12", "pad13", "pad14", "title", "header", "70–75 years", "76–79 years", "< 18.5 kg/m²", "≥ 18.5 kg/m²", "2", "≥ 3", "< 25.5 cases/year", "≥ 25.6 cases/year", "2012–2016", "2017–2021", "Overall", "axis"], "paddingInner": 0, "paddingOuter": 0.848, "align": 0.5697, "round": false}}}},
                {"data": {"values": [{}]},
                 "mark": {"type": "rule", "color": "#222222", "strokeWidth": 2},
                 "encoding": {"x": {"datum": 0.5, "type": "quantitative", "scale": {"type": "log", "domain": [0.03334, 2.3862], "nice": false}, "axis": null}, "x2": {"datum": 2},
                   "y": {"datum": "axis", "type": "nominal", "bandPosition": 0, "axis": null, "scale": {"type": "band", "domain": ["pad1", "pad2", "pad3", "pad4", "pad5", "pad6", "pad7", "pad8", "pad9", "pad10", "pad11", "pad12", "pad13", "pad14", "title", "header", "70–75 years", "76–79 years", "< 18.5 kg/m²", "≥ 18.5 kg/m²", "2", "≥ 3", "< 25.5 cases/year", "≥ 25.6 cases/year", "2012–2016", "2017–2021", "Overall", "axis"], "paddingInner": 0, "paddingOuter": 0.848, "align": 0.5697, "round": false}}}},
                {"data": {"name": "ticks"},
                 "mark": {"type": "rule", "color": "#222222", "strokeWidth": 2},
                 "encoding": {"x": {"field": "v", "type": "quantitative", "scale": {"type": "log", "domain": [0.03334, 2.3862], "nice": false}, "axis": null},
                   "y": {"datum": "axis", "type": "nominal", "bandPosition": 0, "axis": null, "scale": {"type": "band", "domain": ["pad1", "pad2", "pad3", "pad4", "pad5", "pad6", "pad7", "pad8", "pad9", "pad10", "pad11", "pad12", "pad13", "pad14", "title", "header", "70–75 years", "76–79 years", "< 18.5 kg/m²", "≥ 18.5 kg/m²", "2", "≥ 3", "< 25.5 cases/year", "≥ 25.6 cases/year", "2012–2016", "2017–2021", "Overall", "axis"], "paddingInner": 0, "paddingOuter": 0.848, "align": 0.5697, "round": false}},
                   "y2": {"datum": "axis", "bandPosition": 0.15}}},
                {"data": {"name": "ticks"},
                 "mark": {"type": "text", "align": "center", "fontSize": 17, "color": "#333333", "dy": 6},
                 "encoding": {"text": {"field": "label"}, "x": {"field": "v", "type": "quantitative", "scale": {"type": "log", "domain": [0.03334, 2.3862], "nice": false}, "axis": null},
                   "y": {"datum": "axis", "type": "nominal", "bandPosition": 0.5, "axis": null, "scale": {"type": "band", "domain": ["pad1", "pad2", "pad3", "pad4", "pad5", "pad6", "pad7", "pad8", "pad9", "pad10", "pad11", "pad12", "pad13", "pad14", "title", "header", "70–75 years", "76–79 years", "< 18.5 kg/m²", "≥ 18.5 kg/m²", "2", "≥ 3", "< 25.5 cases/year", "≥ 25.6 cases/year", "2012–2016", "2017–2021", "Overall", "axis"], "paddingInner": 0, "paddingOuter": 0.848, "align": 0.5697, "round": false}}}}
              ]
            }
          ]
        }
      ]
    },
    {
      "bounds": "flush",
      "spacing": 0,
      "hconcat": [
        {"width": 663, "height": 1, "data": {"values": []}, "mark": "text", "view": {"stroke": null, "fill": "white"},
         "title": {"text": "FIGURE 1", "orient": "bottom", "anchor": "start", "offset": 11, "baseline": "top", "font": "Open Sans", "fontSize": 30, "fontWeight": "bold", "color": "#1e1e1e",
           "subtitle": ["Subgroup analyses of primary outcomes in overlap weighted patients. Odds ratios (ORs) of major", "complications (A) and respiratory complications (B) associated with docetaxel, cisplatin, and 5-fluorouracil", "(DCF) administration. ORs are calculated with reference to patients in the cisplatin and 5-fluorouracil (CF)", "group."],
           "subtitlePadding": 36, "subtitleLineHeight": 48.7, "subtitleFont": "Open Sans", "subtitleFontSize": 22.6, "subtitleFontWeight": "normal", "subtitleColor": "#2a2a2a"}},
        {"width": 292, "height": 1, "data": {"values": []}, "mark": "text", "view": {"stroke": null, "fill": "white"},
         "title": {"text": "Open in figure viewer", "orient": "bottom", "anchor": "start", "offset": 14, "baseline": "top", "font": "Open Sans", "fontSize": 26.4, "fontWeight": 600, "color": "#1d3f7f"}},
        {"width": 1, "height": 50, "data": {"values": []}, "mark": "text", "view": {"stroke": null, "fill": "#707070"}},
        {"width": 20, "height": 1, "data": {"values": []}, "mark": "text", "view": {"stroke": null, "fill": "white"}},
        {"width": 26, "height": 1, "data": {"values": []}, "mark": "text", "view": {"stroke": null, "fill": "white"},
         "title": {"text": "⬇", "orient": "bottom", "anchor": "middle", "offset": 12, "baseline": "top", "font": "DejaVu Sans", "fontSize": 27, "fontWeight": "bold", "color": "#1d3f7f"}},
        {"width": 121, "height": 1, "data": {"values": []}, "mark": "text", "view": {"stroke": null, "fill": "white"},
         "title": {"text": "PowerPoi", "orient": "bottom", "anchor": "start", "offset": 14, "baseline": "top", "font": "Open Sans", "fontSize": 26.4, "fontWeight": 600, "color": "#1d3f7f"}}
      ]
    }
  ]
}
